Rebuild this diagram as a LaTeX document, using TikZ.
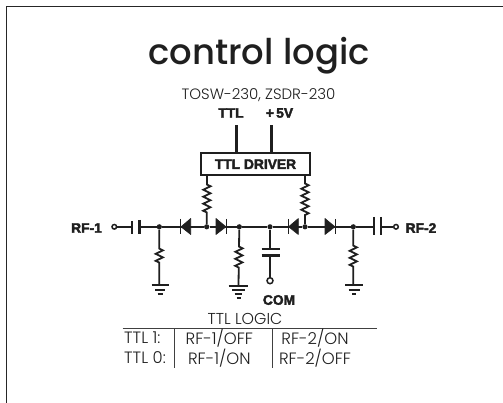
\documentclass[tikz,border=0pt]{standalone}
\usepackage{fontspec}
\setmainfont{Poppins Light}
\newfontfamily\titlef{Poppins Medium}
\newfontfamily\labelf[FakeBold=2.5]{Liberation Sans Bold}
\usetikzlibrary{decorations.pathmorphing}
\definecolor{ink}{gray}{0.12}
\tikzset{
  wire/.style={line width=2.2pt,draw=ink},
  thin wire/.style={line width=1.5pt,draw=ink},
  plate/.style={line width=2.4pt,draw=ink},
  res/.style={line width=1.8pt,draw=ink,decorate,decoration={zigzag,segment length=7pt,amplitude=3.6pt,pre length=#1,post length=#1}},
  res/.default=9pt,
  tri/.style={fill=ink,draw=ink,line width=.6pt,line join=round},
  dot/.style={circle,fill=ink,inner sep=0pt,minimum size=5.2pt},
  term/.style={circle,draw=ink,fill=white,line width=1.5pt,inner sep=0pt,minimum size=#1},
  lab/.style={font=\labelf\fontsize{13.8}{15}\selectfont,text=ink,inner sep=0pt},
  txt/.style={font=\fontsize{16.4}{17}\selectfont,text=ink,inner sep=0pt},
  rule/.style={line width=1pt,draw=black!75},
}
\begin{document}
\begin{tikzpicture}[x=1pt,y=-1pt]
\useasboundingbox (0,0) rectangle (503,403);
\fill[white] (0,0) rectangle (503,403);
\draw[line width=1.5pt,draw=black!85] (6.3,403) -- (6.3,6.6) -- (503,6.6);
\node[inner sep=0pt,text=ink,font=\titlef\fontsize{35.4}{38}\selectfont] (title) at (259,56) {control logic};
\node[txt,font=\fontsize{15}{16}\selectfont] (sub) at (258.5,95.5) {TOSW-230, ZSDR-230};
\node[lab] (ttl) at (231,113) {TTL};
\node[lab] (vcc) at (279.5,113) {+\,5V};
\node[draw=ink,line width=2.6pt,minimum width=109pt,minimum height=22pt,inner sep=0pt,lab] (drv) at (255.5,164.2) {TTL DRIVER};
\coordinate (ttlt) at (236.7,125.5);
\coordinate (ttlb) at (236.7,152.5);
\coordinate (vcct) at (271.7,125.5);
\coordinate (vccb) at (271.7,152.5);
\draw[line width=2.6pt,draw=ink] (ttlt) -- (ttlb);
\draw[line width=2.6pt,draw=ink] (vcct) -- (vccb);
% main line
\node[lab] (rf1) at (86.5,228) {RF-1};
\node[lab] (rf2) at (421,228) {RF-2};
\coordinate (c1a) at (131.7,226.8);
\coordinate (c1b) at (139.3,226.8);
\coordinate (c2a) at (374,226.8);
\coordinate (c2b) at (380.7,226.8);
\node[dot] (j1) at (159.3,226.8) {};
\node[dot] (j2) at (206.7,226.8) {};
\node[dot] (j3) at (239.3,226.8) {};
\node[dot] (j4) at (270,226.8) {};
\node[dot] (j5) at (305,226.8) {};
\node[dot] (j6) at (353.3,226.8) {};
\node[term=4.6pt] (t1) at (114.3,226.8) {};
\node[term=4.6pt] (t2) at (396,226.8) {};
\draw[thin wire] (t1) -- (c1a);
\draw[wire] (c1b) -- (j1) -- (j2) -- (j3) -- (j4) -- (j5) -- (j6) -- (c2a);
\draw[thin wire] (c2b) -- (t2);
\draw[plate] (131.7,221) -- (131.7,234);
\draw[plate] (139.3,220) -- (139.3,234.5);
\draw[plate] (374,217) -- (374,235.5);
\draw[plate] (380.7,217) -- (380.7,235.5);
% diodes
\fill[tri] (181,226.8) -- (190.7,218.5) -- (190.7,234.5) -- cycle;
\draw[line width=1.6pt,draw=ink] (180.6,219) -- (180.6,234);
\fill[tri] (226,226.8) -- (216,218.5) -- (216,234.5) -- cycle;
\draw[line width=1.6pt,draw=ink] (226.4,219) -- (226.4,234);
\fill[tri] (288.6,226.8) -- (298.3,218.5) -- (298.3,234.5) -- cycle;
\draw[line width=1.6pt,draw=ink] (288.3,219) -- (288.3,234);
\fill[tri] (335,226.8) -- (325,218.5) -- (325,234.5) -- cycle;
\draw[line width=1.6pt,draw=ink] (335.3,219) -- (335.3,234);
% resistors up
\coordinate (dl) at (207,175.5);
\coordinate (dr) at (305,175.5);
\draw[res=9pt] (dl) -- (j2);
\draw[res=8pt] (dr) -- (j5);
% grounds
\coordinate (g1) at (159.3,285);
\coordinate (g2) at (238.5,285.7);
\coordinate (g3) at (353.3,285);
\draw[res=19pt] (j1) -- (g1);
\draw[res=17pt] (j3) -- (g2);
\draw[res=16pt] (j6) -- (g3);
\draw[plate,line width=1.9pt] (151.5,285) -- (169,285) (155,290) -- (165,290) (157.5,294.3) -- (162.5,294.3);
\draw[plate,line width=1.9pt] (228.5,285.7) -- (248,285.7) (232,290) -- (245,290) (234.5,294) -- (242,294) (236.5,298) -- (240.5,298);
\draw[plate,line width=1.9pt] (345,285) -- (363,285) (348.5,290) -- (359.5,290) (352,294) -- (356,294);
% cap to COM
\coordinate (cc1) at (270,249.3);
\coordinate (cc2) at (270,255.7);
\node[term=6pt] (t3) at (270,280.7) {};
\draw[wire] (j4) -- (cc1);
\draw[wire] (cc2) -- (t3);
\draw[plate] (261.5,249.3) -- (280,249.3);
\draw[plate] (261.5,255.7) -- (280,255.7);
\node[lab] (com) at (279,300) {COM};
% table
\node[txt,font=\fontsize{15.8}{16}\selectfont] (logic) at (245,319) {TTL LOGIC};
\coordinate (ra) at (122.7,328);
\coordinate (rb) at (376.7,328);
\draw[rule] (ra) -- (rb);
\coordinate (v1a) at (174.3,328);
\coordinate (v1b) at (174.3,367.5);
\coordinate (v2a) at (272,328);
\coordinate (v2b) at (272,367.5);
\draw[rule] (v1a) -- (v1b);
\draw[rule] (v2a) -- (v2b);
\node[txt,anchor=west] (r1a) at (124,338) {TTL 1:};
\node[txt,anchor=west] (r2a) at (124,357.7) {TTL 0:};
\node[txt] (r1b) at (219.3,338) {RF-1/OFF};
\node[txt] (r2b) at (219.3,357.7) {RF-1/ON};
\node[txt] (r1c) at (315,338) {RF-2/ON};
\node[txt] (r2c) at (315,357.7) {RF-2/OFF};
\end{tikzpicture}
\end{document}
